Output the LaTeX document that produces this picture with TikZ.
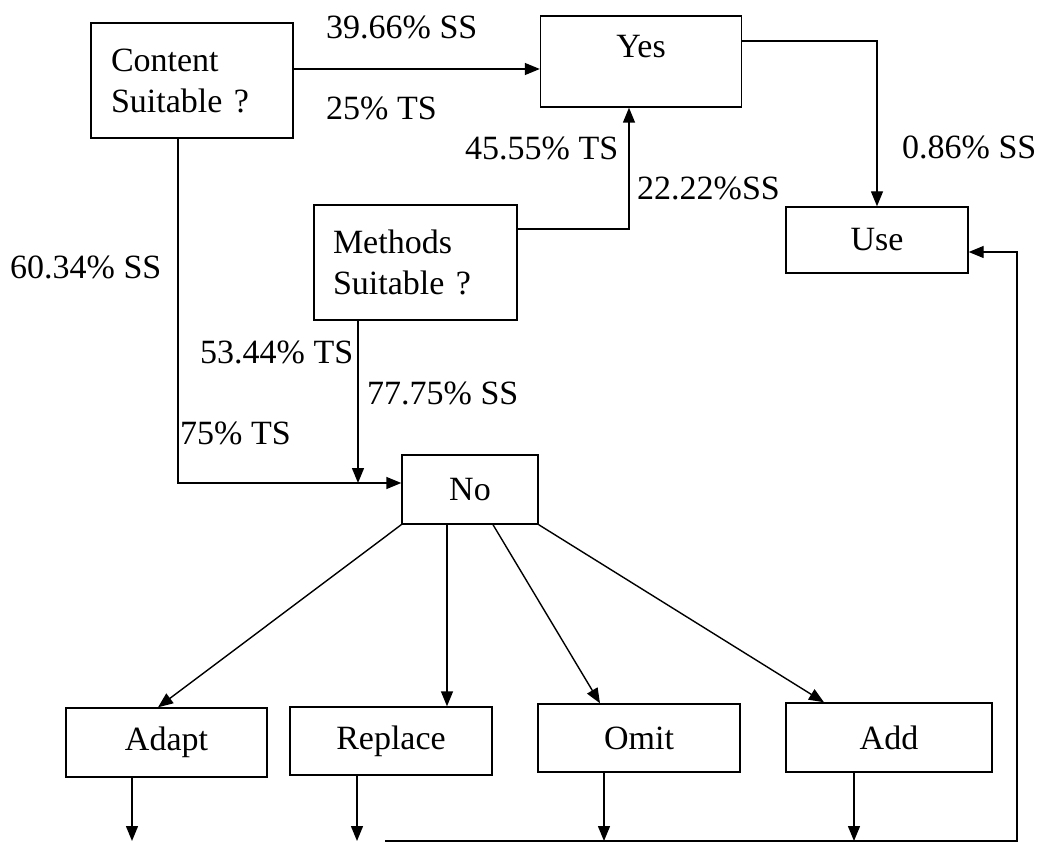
\documentclass[tikz,border=0pt]{standalone}
\usepackage{fontspec}
\setmainfont{Liberation Serif}
\usetikzlibrary{arrows.meta}
\begin{document}
\begin{tikzpicture}[x=1pt,y=-1pt,
  box/.style={draw,line width=1.4pt,inner sep=0pt,font=\fontsize{34}{41}\selectfont},
  lbl/.style={inner sep=0pt,anchor=west,font=\fontsize{34}{41}\selectfont},
  arr/.style={line width=1.4pt,-{Triangle[length=15pt,width=12pt]}},
  ln/.style={line width=1.4pt}]
\useasboundingbox (0,0) rectangle (1047,842);
% boxes
\node[box,minimum width=202pt,minimum height=115pt,text width=162pt,align=left] (content) at (192,80.5) {Content\\Suitable ?};
\node[box,minimum width=203pt,minimum height=115pt,text width=165pt,align=left] (methods) at (415.5,262.5) {Methods\\Suitable ?};
\node[box,minimum width=201pt,minimum height=91pt,text height=22pt,text depth=29pt] (yes) at (641,61.5) {Yes};
\node[box,minimum width=182pt,minimum height=66pt] (use) at (877,240) {Use};
\node[box,minimum width=136pt,minimum height=69pt] (no) at (470,489.5) {No};
\node[box,minimum width=201pt,minimum height=69pt] (adapt) at (166.5,742.5) {Adapt};
\node[box,minimum width=202pt,minimum height=68pt] (replace) at (391,741) {Replace};
\node[box,minimum width=202pt,minimum height=68pt] (omit) at (639,738) {Omit};
\node[box,minimum width=206pt,minimum height=69pt] (add) at (889,737.5) {Add};
% coordinates
\coordinate (bot) at (0,841);
\coordinate (bl) at (385,841);
\coordinate (br) at (1017,841);
% connectors
\draw[arr] ([yshift=11.5pt]content.east) -- ([yshift=11.5pt]content.east -| yes.west);
\draw[arr] ([yshift=20.5pt]yes.east) -| (use.north);
\draw[arr] ([yshift=33.5pt]methods.east) -| ([xshift=-12pt]yes.south);
\draw[arr] ([xshift=-14pt]content.south) |- ([yshift=6.5pt]no.west);
\draw[arr] ([xshift=-57.5pt]methods.south) -- ([xshift=-57.5pt,yshift=6.5pt]methods.south |- no.west);
\draw[arr] (no.south west) -- ([xshift=-8.5pt]adapt.north);
\draw[arr] ([xshift=-23pt]no.south) -- ([xshift=-23pt]replace.north -| no.south);
\draw[arr] ([xshift=23pt]no.south) -- ([xshift=-39pt]omit.north);
\draw[arr] (no.south east) -- ([xshift=-65pt]add.north);
\draw[arr] ([xshift=-34.5pt]adapt.south) -- ([xshift=-34.5pt]adapt.south |- bot);
\draw[arr] ([xshift=-34pt]replace.south) -- ([xshift=-34pt]replace.south |- bot);
\draw[arr] ([xshift=-35pt]omit.south) -- ([xshift=-35pt]omit.south |- bot);
\draw[arr] ([xshift=-35pt]add.south) -- ([xshift=-35pt]add.south |- bot);
\draw[arr] (bl) -- (br) |- ([yshift=-12pt]use.east);
% labels
\node[lbl] (l1) at (326,27) {39.66\% SS};
\node[lbl] (l2) at (326,108) {25\% TS};
\node[lbl] (l3) at (465,148) {45.55\% TS};
\node[lbl] (l4) at (637,188) {22.22\%SS};
\node[lbl] (l5) at (902,147) {0.86\% SS};
\node[lbl] (l6) at (10,267) {60.34\% SS};
\node[lbl] (l7) at (200,352) {53.44\% TS};
\node[lbl] (l8) at (367,393) {77.75\% SS};
\node[lbl] (l9) at (180,433) {75\% TS};
\end{tikzpicture}
\end{document}
